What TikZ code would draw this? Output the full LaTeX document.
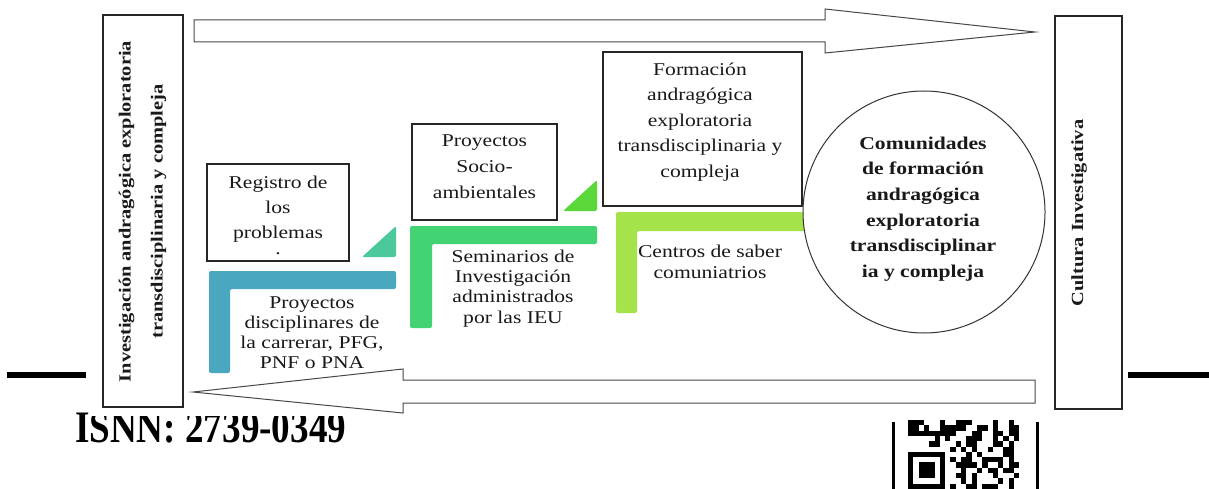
\documentclass[tikz,border=0pt]{standalone}
\usepackage{fontspec}
\setmainfont{Liberation Serif}[FakeStretch=1.2]
\newfontfamily\isnnfont{Liberation Serif}[FakeStretch=0.825]
\definecolor{tealtri}{HTML}{4CC99B}
\definecolor{blueL}{HTML}{4AA7C0}
\definecolor{greentri}{HTML}{5AD83A}
\definecolor{greenL}{HTML}{44D372}
\definecolor{limeL}{HTML}{A5E34A}
\begin{document}
\begin{tikzpicture}[x=1pt,y=-1pt,
  every node/.style={inner sep=0pt,outer sep=0pt},
  frame/.style={draw=black!85,line width=1.1pt,fill=white},
  bigarrow/.style={draw=black!72,line width=1pt,fill=white,line join=miter},
  lshape/.style={rounded corners=2pt},
  txt/.style={align=center,font=\fontsize{18}{20.3}\selectfont,text=black!90},
  btxt/.style={align=center,font=\bfseries\fontsize{17}{32}\selectfont,text=black!90},
  rule/.style={line width=6pt,black}
]
\useasboundingbox (0,0) rectangle (1209,489);
\fill[white] (0,0) rectangle (1209,489);

% page artefacts
\node[anchor=base west,font=\isnnfont\bfseries\fontsize{45}{50}\selectfont] (isnn) at (75,442) {ISNN: 2739-0349};
\fill[white] (90,-1) rectangle (1125,416);
\draw[rule] (7,375) -- (86,375);
\draw[rule] (1128,375) -- (1209,375);
\begin{scope}
\clip (0,0) rectangle (1209,489);
\fill[black] (892,422) rectangle (894.5,490);
\fill[black] (1036,422) rectangle (1038.5,490);
\pgfmathsetseed{11}
\foreach \r in {0,...,12}{\foreach \c in {0,...,20}{
  \pgfmathrandominteger{\qv}{0}{1}
  \pgfmathtruncatemacro{\qon}{and(\qv==1,or(\c>7,\r<5))}
  \ifnum\qon=1 \fill[black] (908+\c*5.3,420+\r*5.3) rectangle ++(5.3,5.3); \fi
}}
\fill[black] (908,451.8) rectangle ++(37.1,37.1);
\fill[white] (913.3,457.1) rectangle ++(26.5,26.5);
\fill[black] (918.6,462.4) rectangle ++(15.9,15.9);
\end{scope}

% side frames
\node[frame,minimum width=80pt,minimum height=392pt] (left) at (143,211) {};
\node[btxt,rotate=90] (leftt) at (142.5,211.5) {Investigación andragógica exploratoria\\transdisciplinaria y compleja};
\node[frame,minimum width=67pt,minimum height=393pt] (right) at (1088.5,212.5) {};
\node[btxt,rotate=90] (rightt) at (1079,213) {Cultura Investigativa};

% big arrows
\draw[bigarrow] (194,20) -- (825,20) -- (825,9) -- (1035,32) -- (825,53) -- (825,42) -- (194,42) -- cycle;
\draw[bigarrow] (1035,380) -- (403,380) -- (403,369) -- (193,392) -- (403,413) -- (403,403) -- (1035,403) -- cycle;

% L shapes and triangles
\fill[blueL,lshape] (209,271) -- (396,271) -- (396,289) -- (230,289) -- (230,373) -- (209,373) -- cycle;
\fill[tealtri,lshape] (362,257) -- (396,257) -- (396,226) -- cycle;
\fill[greenL,lshape] (410,226) -- (597,226) -- (597,244) -- (432,244) -- (432,328) -- (410,328) -- cycle;
\fill[greentri,lshape] (563,211) -- (597,211) -- (597,180) -- cycle;
\fill[limeL,lshape] (616,212) -- (812,212) -- (812,231) -- (637,231) -- (637,313) -- (616,313) -- cycle;

% boxes
\node[frame,minimum width=142pt,minimum height=97pt] (reg) at (278,212.5) {};
\node[txt,font=\fontsize{18}{25}\selectfont] (regt) at (278,209) {Registro de\\los\\problemas};
\node[txt,font=\fontsize{18}{25}\selectfont,anchor=base] (regdot) at (278,254) {.};
\node[frame,minimum width=145pt,minimum height=96pt] (socio) at (484.5,172) {};
\node[txt,font=\fontsize{18}{26}\selectfont] (sociot) at (484.5,167) {Proyectos\\Socio-\\ambientales};
\node[frame,minimum width=199pt,minimum height=154pt] (form) at (702.5,129) {};
\node[txt,font=\fontsize{18}{25.5}\selectfont] (formt) at (700,122) {Formación\\andragógica\\exploratoria\\transdisciplinaria y\\compleja};

% L texts
\node[txt] (bluet) at (312,332.7) {Proyectos\\disciplinares de\\la carrerar, PFG,\\PNF o PNA};
\node[txt] (greent) at (513,288.5) {Seminarios de\\Investigación\\administrados\\por las IEU};
\node[txt] (limet) at (710,261.7) {Centros de saber\\comuniatrios};

% circle
\node[circle,draw=black!80,line width=1pt,fill=white,minimum size=242pt] (com) at (924,212) {};
\node[align=center,font=\bfseries\fontsize{18}{25.6}\selectfont,text=black!90] (comt) at (923,209) {Comunidades\\de formación\\andragógica\\exploratoria\\transdisciplinar\\ia y compleja};
\end{tikzpicture}
\end{document}
